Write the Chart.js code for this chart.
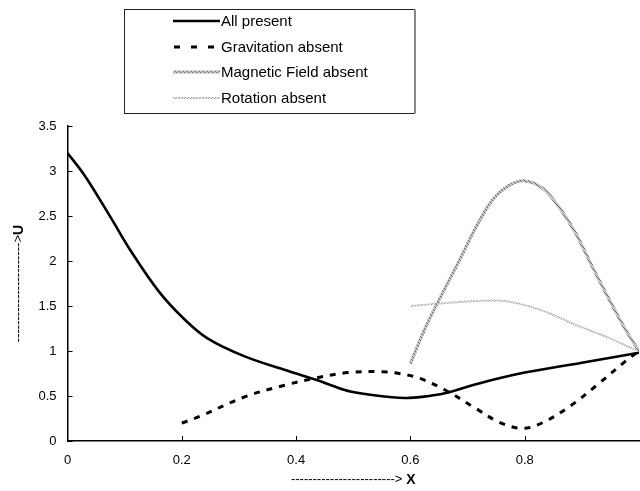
<!DOCTYPE html>
<html>
<head>
<meta charset="utf-8">
<script src="https://cdn.jsdelivr.net/npm/chart.js@4.4.1/dist/chart.umd.min.js"></script>
<style>
  html, body { margin: 0; padding: 0; background: #fff; overflow: hidden; }
  #wrap { width: 640px; height: 491px; position: relative; }
</style>
</head>
<body>
<div id="wrap"><canvas id="c" width="640" height="491"></canvas></div>
<script>
// ---- data ----
const seriesLabels = ['All present', 'Gravitation absent', 'Magnetic Field absent', 'Rotation absent'];

const allX = [0, 0.03, 0.075, 0.11, 0.16, 0.205, 0.245, 0.31, 0.39, 0.435, 0.465, 0.495, 0.54, 0.59, 0.62, 0.66, 0.72, 0.8, 0.9, 1.0];
const allY = [3.2, 2.95, 2.49, 2.12, 1.66, 1.35, 1.14, 0.94, 0.77, 0.68, 0.61, 0.55, 0.505, 0.478, 0.49, 0.53, 0.64, 0.76, 0.87, 0.98];

const gravX = [0.2, 0.23, 0.31, 0.38, 0.435, 0.49, 0.55, 0.58, 0.615, 0.66, 0.715, 0.755, 0.795, 0.83, 0.88, 0.93, 0.975, 1.0];
const gravY = [0.2, 0.27, 0.49, 0.62, 0.7, 0.76, 0.77, 0.75, 0.7, 0.57, 0.36, 0.21, 0.14, 0.2, 0.39, 0.64, 0.88, 1.0];

const magX = [0.6, 0.627, 0.656, 0.686, 0.715, 0.744, 0.773, 0.8, 0.831, 0.86, 0.889, 0.918, 0.948, 0.977, 1.0];
const magY = [0.86, 1.27, 1.64, 2.01, 2.38, 2.68, 2.84, 2.89, 2.81, 2.6, 2.31, 1.94, 1.57, 1.23, 1.0];

const rotX = [0.6, 0.656, 0.7, 0.755, 0.8, 0.843, 0.889, 0.942, 0.988, 1.0];
const rotY = [1.5, 1.53, 1.55, 1.56, 1.51, 1.42, 1.29, 1.16, 1.03, 1.0];

const xTickValues = [0, 0.2, 0.4, 0.6, 0.8];
const yTickValues = [0, 0.5, 1, 1.5, 2, 2.5, 3, 3.5];
const xTitleDashes = '------------------------>';
const xTitleLetter = 'X';
const yTitleDashes = '----------------------->';
const yTitleLetter = 'U';

// ---- styling helpers ----
function pts(xs, ys) { return xs.map((x, i) => ({ x: x, y: ys[i] })); }

function makePattern(size, bg, fg, cells) {
  const pc = document.createElement('canvas');
  pc.width = size; pc.height = size;
  const g = pc.getContext('2d');
  g.fillStyle = bg; g.fillRect(0, 0, size, size);
  g.fillStyle = fg;
  cells.forEach(c => g.fillRect(c[0], c[1], 1, 1));
  return g.createPattern(pc, 'repeat');
}
const magPattern = makePattern(4, '#c4c4c4', '#6a6a6a', [[0,0],[1,1],[2,2],[3,3]]);
const rotPattern = makePattern(3, '#e6e6e6', '#9a9a9a', [[0,0],[2,1],[1,2]]);

const FONT = 'Arial, "Liberation Sans", sans-serif';

// inward tick marks
const innerTicks = {
  id: 'innerTicks',
  afterDraw(chart) {
    const { ctx, chartArea, scales } = chart;
    ctx.save();
    ctx.strokeStyle = '#000';
    ctx.lineWidth = 1;
    xTickValues.forEach(v => {
      if (v === 0) return;
      const px = Math.round(scales.x.getPixelForValue(v)) + 0.5;
      ctx.beginPath(); ctx.moveTo(px, chartArea.bottom); ctx.lineTo(px, chartArea.bottom - 5); ctx.stroke();
    });
    yTickValues.forEach(v => {
      const py = Math.round(scales.y.getPixelForValue(v)) + 0.5;
      ctx.beginPath(); ctx.moveTo(chartArea.left, py); ctx.lineTo(chartArea.left + 5, py); ctx.stroke();
    });
    ctx.restore();
  }
};

// axis titles with mixed weights
const axisTitles = {
  id: 'axisTitles',
  afterDraw(chart) {
    const { ctx, chartArea } = chart;
    ctx.save();
    ctx.fillStyle = '#000';
    ctx.textBaseline = 'middle';
    ctx.textAlign = 'left';
    // x title
    ctx.font = '13px ' + FONT;
    const w1 = ctx.measureText(xTitleDashes).width;
    ctx.font = 'bold 14px ' + FONT;
    const w2 = ctx.measureText(' ' + xTitleLetter).width;
    const cx = (chartArea.left + chartArea.right) / 2;
    const sx = cx - (w1 + w2) / 2;
    const ty = 479;
    ctx.font = '13px ' + FONT;
    ctx.fillText(xTitleDashes, sx, ty);
    ctx.font = 'bold 14px ' + FONT;
    ctx.fillText(' ' + xTitleLetter, sx + w1, ty + 1);
    // y title
    ctx.translate(18, (chartArea.top + chartArea.bottom) / 2);
    ctx.rotate(-Math.PI / 2);
    ctx.font = '13px ' + FONT;
    const v1 = ctx.measureText(yTitleDashes).width;
    ctx.font = 'bold 14px ' + FONT;
    const v2 = ctx.measureText(yTitleLetter).width;
    const sy = -(v1 + v2) / 2;
    ctx.font = '13px ' + FONT;
    ctx.fillText(yTitleDashes, sy, 0);
    ctx.font = 'bold 14px ' + FONT;
    ctx.fillText(yTitleLetter, sy + v1, 1);
    ctx.restore();
  }
};

// boxed legend
const boxLegend = {
  id: 'boxLegend',
  afterDraw(chart) {
    const { ctx } = chart;
    const bx = 124.5, by = 9.5, bw = 290, bh = 104;
    ctx.save();
    ctx.fillStyle = '#fff';
    ctx.fillRect(bx, by, bw, bh);
    ctx.strokeStyle = '#222';
    ctx.lineWidth = 1;
    ctx.strokeRect(bx, by, bw, bh);
    ctx.strokeStyle = '#888';
    ctx.lineWidth = 2;
    ctx.beginPath(); ctx.moveTo(bx + bw + 0.5, by); ctx.lineTo(bx + bw + 0.5, by + bh); ctx.stroke();
    const rows = [21, 47, 72, 98];
    chart.data.datasets.forEach((ds, i) => {
      const y = rows[i];
      ctx.save();
      ctx.strokeStyle = ds.borderColor;
      ctx.lineWidth = ds.borderWidth;
      ctx.setLineDash(ds.legendDash || []);
      ctx.beginPath();
      ctx.moveTo(ds.legendStart || 173, y);
      ctx.lineTo(220, y);
      ctx.stroke();
      ctx.restore();
      ctx.fillStyle = '#000';
      ctx.font = '15px ' + FONT;
      ctx.textBaseline = 'middle';
      ctx.textAlign = 'left';
      ctx.fillText(ds.label, 221, y + 1);
    });
    ctx.restore();
  }
};

new Chart(document.getElementById('c'), {
  type: 'line',
  data: {
    datasets: [
      { label: seriesLabels[0], data: pts(allX, allY), borderColor: '#000', borderWidth: 2.6,
        pointRadius: 0, tension: 0.35, fill: false },
      { label: seriesLabels[1], data: pts(gravX, gravY), borderColor: '#000', borderWidth: 3,
        borderDash: [6, 7], legendDash: [6, 11], legendStart: 174, pointRadius: 0,
        tension: 0.35, fill: false },
      { label: seriesLabels[2], data: pts(magX, magY), borderColor: magPattern, borderWidth: 3,
        pointRadius: 0, tension: 0.35, fill: false },
      { label: seriesLabels[3], data: pts(rotX, rotY), borderColor: rotPattern, borderWidth: 2,
        pointRadius: 0, tension: 0.35, fill: false }
    ]
  },
  options: {
    responsive: false,
    animation: false,
    events: [],
    layout: { padding: { top: 126, right: 1, left: 0, bottom: 0 } },
    plugins: { legend: { display: false }, tooltip: { enabled: false }, title: { display: false } },
    scales: {
      x: {
        type: 'linear', min: 0, max: 1,
        afterFit(scale) { scale.height = 50; },
        afterBuildTicks(scale) { scale.ticks = xTickValues.map(v => ({ value: v })); },
        ticks: { color: '#000', font: { family: FONT, size: 13 }, padding: 12,
                 callback: v => String(v), maxRotation: 0 },
        grid: { display: false, drawTicks: false },
        border: { display: true, color: '#000', width: 1.5 }
      },
      y: {
        type: 'linear', min: 0, max: 3.5,
        afterFit(scale) { scale.width = 67.5; },
        afterBuildTicks(scale) { scale.ticks = yTickValues.map(v => ({ value: v })); },
        ticks: { color: '#000', font: { family: FONT, size: 13 }, padding: 11,
                 callback: v => String(v) },
        grid: { display: false, drawTicks: false },
        border: { display: true, color: '#000', width: 1.5 }
      }
    }
  },
  plugins: [innerTicks, axisTitles, boxLegend]
});
</script>
</body>
</html>
